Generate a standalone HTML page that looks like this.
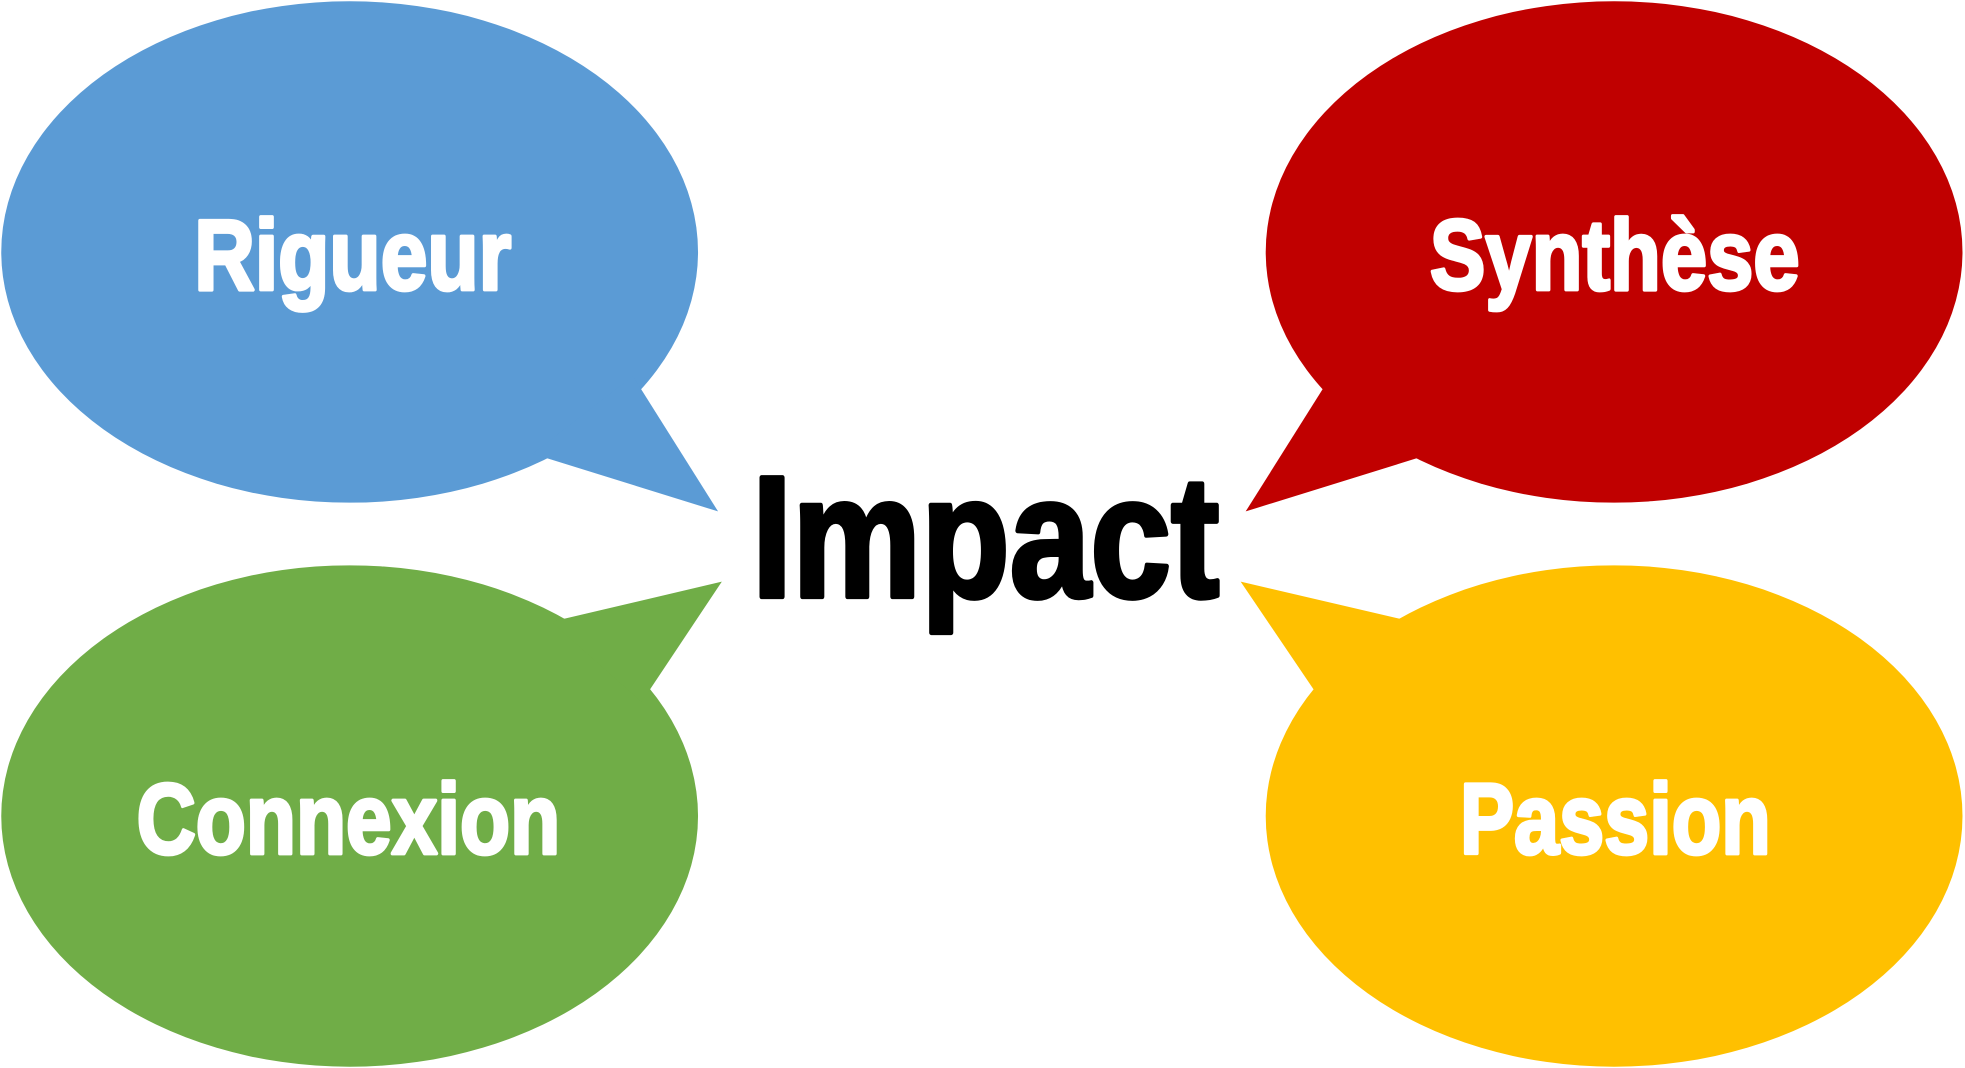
<!DOCTYPE html>
<html><head><meta charset="utf-8"><style>html,body{margin:0;padding:0;background:#fff}svg{display:block}</style></head>
<body>
<svg width="1965" height="1068" viewBox="0 0 1568 852" preserveAspectRatio="none" xmlns="http://www.w3.org/2000/svg">
<g font-family="'Liberation Sans Narrow','Liberation Sans',sans-serif" font-weight="bold">
<ellipse cx="279" cy="201" rx="278" ry="200" fill="#5B9BD5"/>
<polygon points="505,300 573,408 425,362" fill="#5B9BD5"/>
<ellipse cx="1288" cy="201" rx="278" ry="200" fill="#C00000"/>
<polygon points="1062,300 994,408 1142,362" fill="#C00000"/>
<ellipse cx="279" cy="651" rx="278" ry="200" fill="#70AD47"/>
<polygon points="440,496 576,464 512,560" fill="#70AD47"/>
<ellipse cx="1288" cy="651" rx="278" ry="200" fill="#FFC000"/>
<polygon points="1127,496 990,464 1055,560" fill="#FFC000"/>
<g fill="#fff" stroke="#fff" stroke-width="3" stroke-linejoin="round">
<text x="155" y="231" font-size="80" textLength="253" lengthAdjust="spacingAndGlyphs">Rigueur</text>
<text x="1141" y="231" font-size="80" textLength="295" lengthAdjust="spacingAndGlyphs">Synthèse</text>
<text x="109" y="681" font-size="80" textLength="338" lengthAdjust="spacingAndGlyphs">Connexion</text>
<text x="1165" y="681" font-size="80" textLength="248" lengthAdjust="spacingAndGlyphs">Passion</text>
</g>
<text x="600" y="476" font-size="138" fill="#000" stroke="#000" stroke-width="4" stroke-linejoin="round" textLength="373" lengthAdjust="spacingAndGlyphs">Impact</text>
</g>
</svg>
</body></html>
